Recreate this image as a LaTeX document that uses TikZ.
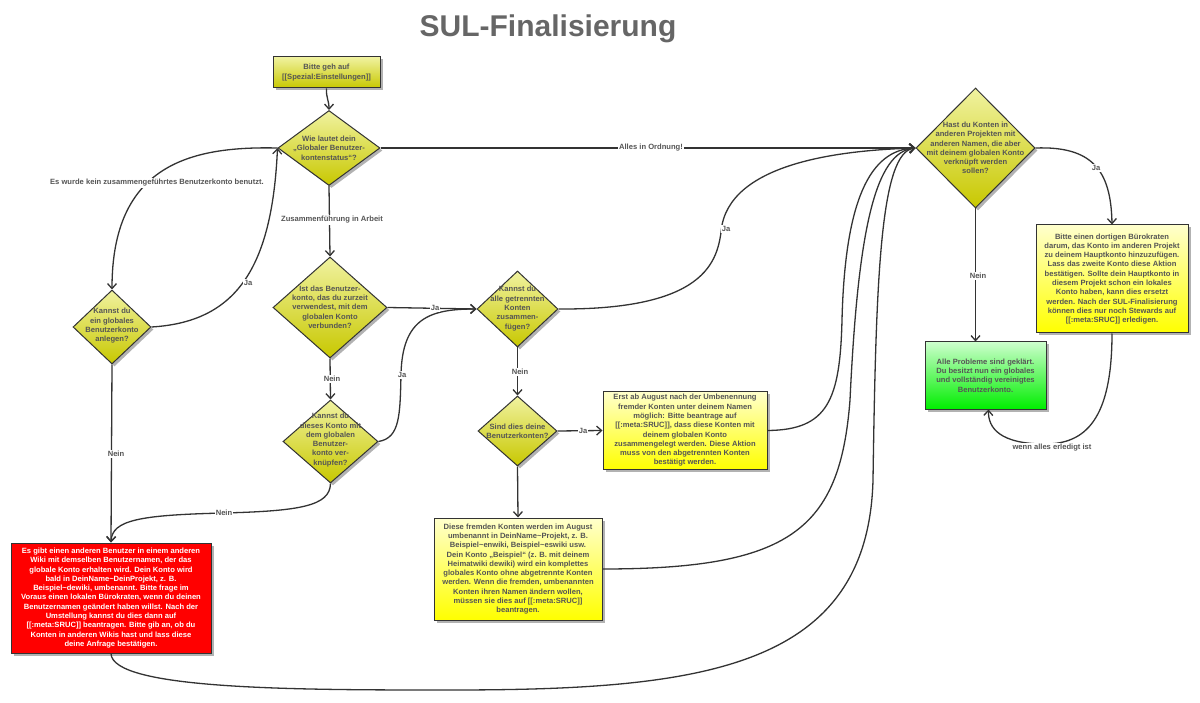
\documentclass[tikz,border=0pt]{standalone}
\usepackage{fontspec}
\setmainfont{Liberation Sans}
\usetikzlibrary{shapes.geometric,shadows,arrows.meta,calc}
\definecolor{ln}{HTML}{333333}
\definecolor{tx}{HTML}{555555}
\definecolor{ttl}{HTML}{666666}
\definecolor{dyT}{RGB}{240,242,160}
\definecolor{dyB}{RGB}{200,200,0}
\definecolor{yT}{RGB}{255,255,205}
\definecolor{yB}{RGB}{255,255,0}
\definecolor{gT}{RGB}{205,255,205}
\definecolor{gB}{RGB}{0,238,0}
\tikzset{
 shbase/.style={draw=ln, line width=1pt, drop shadow={shadow xshift=2.5pt, shadow yshift=-2.5pt, opacity=0.3, fill=black}},
 dia/.style={shbase, diamond, inner sep=0pt, top color=dyT, bottom color=dyB},
 olbox/.style={shbase, rectangle, top color=dyT, bottom color=dyB, text=tx, font=\fontsize{7.6}{9.3}\selectfont\bfseries, align=center},
 ybox/.style={shbase, rectangle, top color=yT, bottom color=yB, text=tx, font=\fontsize{7.6}{9.3}\selectfont\bfseries, align=center},
 gbox/.style={shbase, rectangle, top color=gT, bottom color=gB, text=tx, font=\fontsize{7.6}{9.3}\selectfont\bfseries, align=center},
 rbox/.style={shbase, rectangle, fill=red, text=white, font=\fontsize{7.6}{9.3}\selectfont\bfseries, align=center},
 txt/.style={text=tx, font=\fontsize{7.6}{9.3}\selectfont\bfseries, align=center, inner sep=0pt},
 elabel/.style={fill=white, text=tx, font=\fontsize{7.6}{8.5}\selectfont\bfseries, inner sep=1.2pt},
 conn/.style={draw=ln, line width=1.3pt, -{Straight Barb[length=5pt,width=9pt,line width=1.3pt]}},
}
\begin{document}
\begin{tikzpicture}[x=1pt,y=-1pt]
\fill[white] (0,0) rectangle (1200,703);
\useasboundingbox (0,0) rectangle (1200,703);

\node[text=ttl, font=\fontsize{30}{34}\selectfont\bfseries, anchor=base] (title) at (548,37) {SUL-Finalisierung};

% boxes
\node[olbox, minimum width=107, minimum height=31] (b1) at (326.5,72.5) {Bitte geh auf\\{}[[Spezial:Einstellungen]]};
\node[rbox, minimum width=200, minimum height=110] (red) at (111,598) {Es gibt einen anderen Benutzer in einem anderen\\Wiki mit demselben Benutzernamen, der das\\globale Konto erhalten wird. Dein Konto wird\\bald in DeinName\textasciitilde DeinProjekt, z. B.\\Beispiel\textasciitilde dewiki, umbenannt. Bitte frage im\\Voraus einen lokalen Bürokraten, wenn du deinen\\Benutzernamen geändert haben willst. Nach der\\Umstellung kannst du dies dann auf\\{}[[:meta:SRUC]] beantragen. Bitte gib an, ob du\\Konten in anderen Wikis hast und lass diese\\deine Anfrage bestätigen.};
\node[ybox, minimum width=164, minimum height=77] (y1) at (685,430.5) {Erst ab August nach der Umbenennung\\fremder Konten unter deinem Namen\\möglich: Bitte beantrage auf\\{}[[:meta:SRUC]], dass diese Konten mit\\deinem globalen Konto\\zusammengelegt werden. Diese Aktion\\muss von den abgetrennten Konten\\bestätigt werden.};
\node[ybox, minimum width=168, minimum height=102] (y2) at (518,569) {Diese fremden Konten werden im August\\umbenannt in DeinName\textasciitilde Projekt, z. B.\\Beispiel\textasciitilde enwiki, Beispiel\textasciitilde eswiki usw.\\Dein Konto „Beispiel“ (z. B. mit deinem\\Heimatwiki dewiki) wird ein komplettes\\globales Konto ohne abgetrennte Konten\\werden. Wenn die fremden, umbenannten\\Konten ihren Namen ändern wollen,\\müssen sie dies auf [[:meta:SRUC]]\\beantragen.};
\node[ybox, minimum width=152, minimum height=108] (rb) at (1112,279) {Bitte einen dortigen Bürokraten\\darum, das Konto im anderen Projekt\\zu deinem Hauptkonto hinzuzufügen.\\Lass das zweite Konto diese Aktion\\bestätigen. Sollte dein Hauptkonto in\\diesem Projekt schon ein lokales\\Konto haben, kann dies ersetzt\\werden. Nach der SUL-Finalisierung\\können dies nur noch Stewards auf\\{}[[:meta:SRUC]] erledigen.};
\node[gbox, minimum width=121, minimum height=67] (green) at (985.5,375.5) {Alle Probleme sind geklärt.\\Du besitzt nun ein globales\\und vollständig vereinigtes\\Benutzerkonto.};

% diamonds
\node[dia, minimum width=102, minimum height=75] (d1) at (329,148) {};
\node[txt] (d1t) at (329,148) {Wie lautet dein\\„Globaler Benutzer-\\kontenstatus“?};
\node[dia, minimum width=78, minimum height=74] (dl) at (112,327) {};
\node[txt] (dlt) at (112,326) {Kannst du\\ein globales\\Benutzerkonto\\anlegen?};
\node[dia, minimum width=114, minimum height=101] (d3) at (330,307.5) {};
\node[txt] (d3t) at (330,307) {Ist das Benutzer-\\konto, das du zurzeit\\verwendest, mit dem\\globalen Konto\\verbunden?};
\node[dia, minimum width=81, minimum height=76] (d4) at (517.5,309) {};
\node[txt] (d4t) at (517.5,308.5) {Kannst du\\alle getrennten\\Konten\\zusammen-\\fügen?};
\node[dia, minimum width=95, minimum height=83] (d5) at (330.5,441.5) {};
\node[txt] (d5t) at (330.5,440) {Kannst du\\dieses Konto mit\\dem globalen\\Benutzer-\\konto ver-\\knüpfen?};
\node[dia, minimum width=79, minimum height=70] (d6) at (517.5,431) {};
\node[txt] (d6t) at (517.5,431) {Sind dies deine\\Benutzerkonten?};
\node[dia, minimum width=119, minimum height=120] (d2) at (975.5,148) {};
\node[txt] (d2t) at (975.5,148) {Hast du Konten in\\anderen Projekten mit\\anderen Namen, die aber\\mit deinem globalen Konto\\verknüpft werden\\sollen?};

% connectors
\draw[conn] (b1.south) .. controls (326,98) and (329,100) .. (d1.north);
\draw[conn] (d1.east) -- (d2.west);
\draw[conn] (d1.west) .. controls (190,146) and (112,165) .. (dl.north);
\draw[conn] (dl.east) .. controls (235,322) and (272,270) .. (d1.west);
\draw[conn] (d1.south) -- (d3.north);
\draw[conn] (d3.east) -- (d4.west);
\draw[conn] (d3.south) -- (d5.north);
\draw[conn] (d5.east) .. controls (400,438) and (400,415) .. (401,375) .. controls (402,318) and (430,309) .. (d4.west);
\draw[conn] (d5.south) .. controls (330,506) and (300,511) .. (224,513) .. controls (140,515) and (112,520) .. (red.north);
\draw[conn] (dl.south) -- (red.north);
\draw[conn] (d4.east) .. controls (715,310) and (718,255) .. (722,225) .. controls (735,160) and (850,150) .. (d2.west);
\draw[conn] (d4.south) -- (d6.north);
\draw[conn] (d6.east) -- (y1.west);
\draw[conn] (d6.south) -- (y2.north);
\draw[conn] (y1.east) .. controls (828,430) and (840,400) .. (842,320) .. controls (845,200) and (870,150) .. (d2.west);
\draw[conn] (y2.east) .. controls (790,569) and (840,530) .. (850,400) .. controls (858,230) and (875,152) .. (d2.west);
\draw[conn] (red.south) .. controls (112,690) and (300,690) .. (450,690) .. controls (700,690) and (868,670) .. (873,480) .. controls (876,280) and (880,152) .. (d2.west);
\draw[conn] (d2.south) -- (d2.south |- green.north);
\draw[conn] (d2.east) .. controls (1092,146) and (1111,170) .. (rb.north);
\draw[conn] (rb.south) .. controls (1112,420) and (1085,444) .. (1045,444) .. controls (1000,444) and (988,428) .. ($(green.south)+(3,0)$);

% edge labels
\node[elabel] (l1) at (651,148) {Alles in Ordnung!};
\node[elabel] (l2) at (157,183) {Es wurde kein zusammengeführtes Benutzerkonto benutzt.};
\node[elabel] (l3) at (248,283) {Ja};
\node[elabel] (l4) at (332,220) {Zusammenführung in Arbeit};
\node[elabel] (l5) at (435,308) {Ja};
\node[elabel] (l6) at (332,379) {Nein};
\node[elabel] (l7) at (402,375) {Ja};
\node[elabel] (l8) at (224,513) {Nein};
\node[elabel] (l9) at (116,454) {Nein};
\node[elabel] (l10) at (726,229) {Ja};
\node[elabel] (l11) at (520,372) {Nein};
\node[elabel] (l12) at (583,431) {Ja};
\node[elabel] (l13) at (978,276) {Nein};
\node[elabel] (l14) at (1096,168) {Ja};
\node[elabel] (l15) at (1052,448) {wenn alles erledigt ist};
\end{tikzpicture}
\end{document}
